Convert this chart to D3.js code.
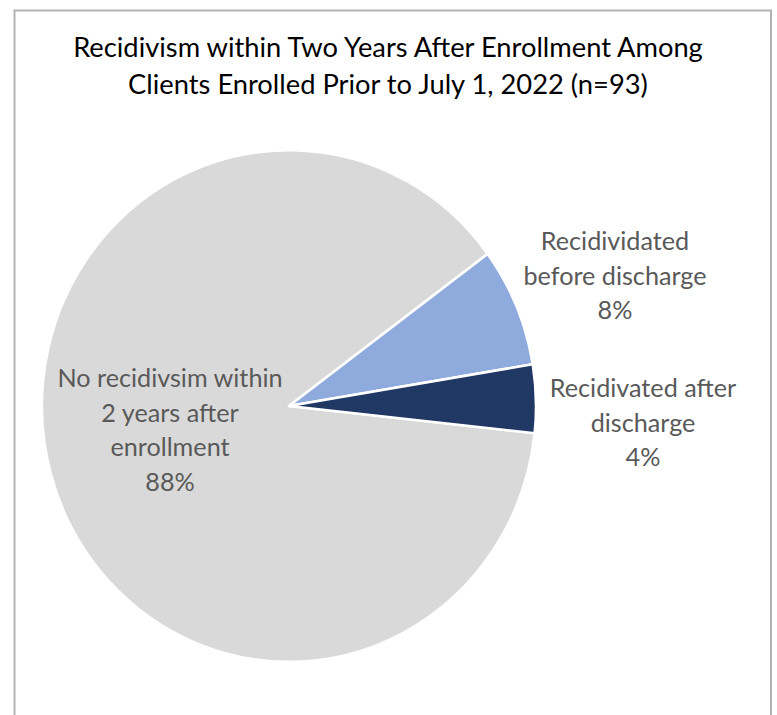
<!DOCTYPE html>
<html>
<head>
<meta charset="utf-8">
<script src="https://cdn.jsdelivr.net/npm/d3@7"></script>
<style>
  body { margin: 0; background: #fff; }
  text { font-family: Lato, "Open Sans", sans-serif; }
</style>
</head>
<body>
<div id="chart"></div>
<script>
// data (n = 93)
const categories = ["No recidivsim within 2 years after enrollment", "Recidividated before discharge", "Recidivated after discharge"];
const counts = [82, 7, 4];
const percentLabels = ["88%", "8%", "4%"];
const labelLines = [
    ["No recidivsim within", "2 years after", "enrollment"],
    ["Recidividated", "before discharge"],
    ["Recidivated after", "discharge"]
];
const sliceColors = ["#d9d9d9", "#8faadc", "#203864"];
const titleLines = ["Recidivism within Two Years After Enrollment Among", "Clients Enrolled Prior to July 1, 2022 (n=93)"];

let width = 777, height = 715;

let svg = d3.select("#chart")
    .append("svg")
        .attr("width", width)
        .attr("height", height);

// chart frame (bottom runs past the picture)
svg.append("rect")
    .attr("x", 14.5)
    .attr("y", 10.5)
    .attr("width", 756.5)
    .attr("height", 740)
    .attr("fill", "#fff")
    .attr("stroke", "#b4b4b4")
    .attr("stroke-width", 2);

// title
svg.append("text")
    .attr("x", 388)
    .attr("text-anchor", "middle")
    .attr("fill", "#000")
    .style("font-size", "27.3px")
    .selectAll("tspan")
    .data(titleLines)
    .enter().append("tspan")
        .attr("x", 388)
        .attr("y", (d, i) => 57 + i * 37)
        .text(d => d);

// pie
const cx = 289, cy = 406, r = 247;
const start = 96.1 * Math.PI / 180;

let pie = d3.pie()
    .sort(null)
    .value(d => d)
    .startAngle(start)
    .endAngle(start + 2 * Math.PI);

let arc = d3.arc().innerRadius(0).outerRadius(r);

let g = svg.append("g")
    .attr("transform", "translate(" + cx + "," + cy + ") scale(1,1.036)");

g.selectAll(".slice")
    .data(pie(counts))
    .enter().append("path")
        .attr("class", "slice")
        .attr("d", arc)
        .attr("fill", (d, i) => sliceColors[i])
        .attr("stroke", "#fff")
        .attr("stroke-width", 2.5)
        .attr("stroke-linejoin", "round");

// data labels
const labelPos = [[170, 387], [615, 250], [643, 397]];
const lineGap = 34.5;

labelLines.forEach((lines, i) => {
    let t = svg.append("text")
        .attr("text-anchor", "middle")
        .attr("fill", "#595959")
        .style("font-size", "25.2px");
    lines.concat([percentLabels[i]]).forEach((s, k) => {
        t.append("tspan")
            .attr("x", labelPos[i][0])
            .attr("y", labelPos[i][1] + k * lineGap)
            .text(s);
    });
});
</script>
</body>
</html>
